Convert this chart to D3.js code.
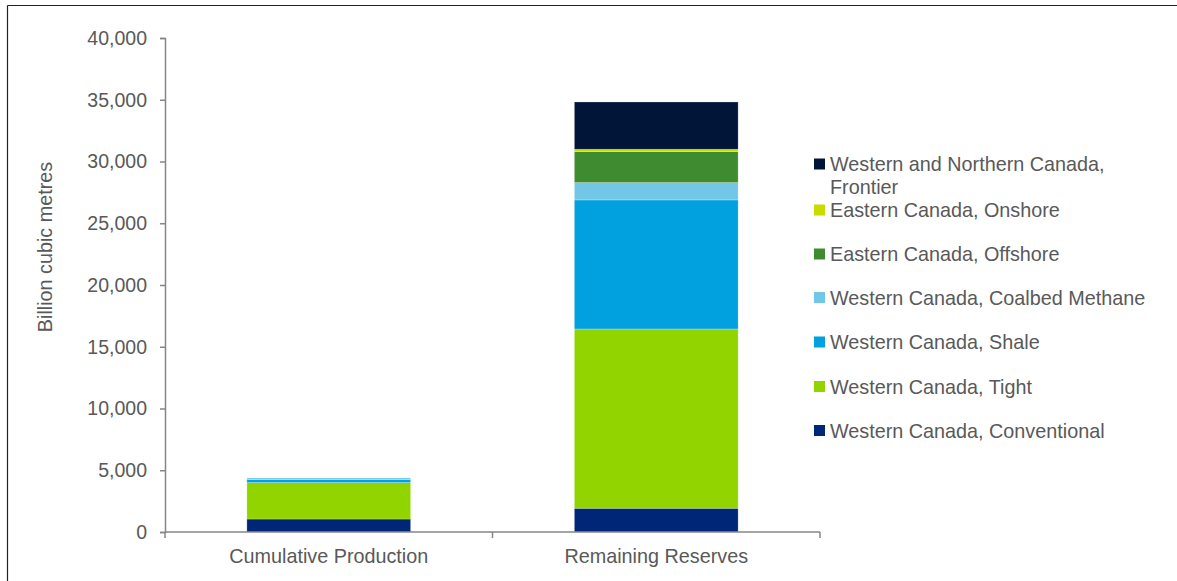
<!DOCTYPE html>
<html>
<head>
<meta charset="utf-8">
<script src="https://cdn.jsdelivr.net/npm/d3@7"></script>
<style>
  html, body { margin: 0; padding: 0; background: #fff; }
  svg { display: block; }
  text { font-family: "Liberation Sans", Arial, sans-serif; }
</style>
</head>
<body>
<svg id="chart" width="1177" height="581"></svg>
<script>
// ---- Data ----
const categories = ["Cumulative Production", "Remaining Reserves"];
const seriesNames = [
  "Western Canada, Conventional",
  "Western Canada, Tight",
  "Western Canada, Shale",
  "Western Canada, Coalbed Methane",
  "Eastern Canada, Offshore",
  "Eastern Canada, Onshore",
  "Western and Northern Canada, Frontier"
];
const conventional = [1050, 1920];
const tight = [2950, 14520];
const shale = [250, 10450];
const coalbed = [130, 1400];
const offshore = [0, 2510];
const onshore = [0, 190];
const frontier = [0, 3830];
const yTicks = [0, 5000, 10000, 15000, 20000, 25000, 30000, 35000, 40000];
const seriesColors = ["#002677", "#92D400", "#00A1DE", "#72C7E7", "#3F8B30", "#C8DC00", "#001538"];

const seriesValues = [conventional, tight, shale, coalbed, offshore, onshore, frontier];
const rows = categories.map((c, i) => {
  const r = { category: c };
  seriesNames.forEach((s, j) => r[s] = seriesValues[j][i]);
  return r;
});

// ---- Layout ----
const svg = d3.select("#chart");
const textColor = "#595959";
const axisColor = "#868686";
const fontSize = 19.8;

// frame
svg.append("line").attr("x1", 7.5).attr("x2", 1177).attr("y1", 5.5).attr("y2", 5.5)
  .attr("stroke", "#222").attr("stroke-width", 1.2);
svg.append("line").attr("x1", 7.5).attr("x2", 7.5).attr("y1", 5.5).attr("y2", 581)
  .attr("stroke", "#222").attr("stroke-width", 1.2);

const x = d3.scaleBand().domain(categories).range([165, 820]).paddingInner(0.5).paddingOuter(0.25);
const y = d3.scaleLinear().domain([0, 40000]).range([532, 38]);

const stack = d3.stack().keys(seriesNames);
const stacked = stack(rows);

const g = svg.append("g");
g.selectAll("g.series").data(stacked).join("g")
  .attr("class", "series")
  .attr("fill", (d, i) => seriesColors[i])
  .selectAll("rect").data(d => d).join("rect")
  .attr("x", d => x(d.data.category))
  .attr("width", x.bandwidth())
  .attr("y", d => y(d[1]))
  .attr("height", d => Math.max(0, y(d[0]) - y(d[1])))
  .attr("stroke", "rgba(255,255,255,0.3)")
  .attr("stroke-width", 0.8);

// y axis
const yAxis = d3.axisLeft(y).tickValues(yTicks).tickSize(5).tickPadding(13)
  .tickFormat(d3.format(","));
const yG = svg.append("g").attr("transform", "translate(165,0)").call(yAxis);
yG.select(".domain").attr("stroke", axisColor).attr("stroke-width", 1.5);
yG.selectAll(".tick line").attr("stroke", axisColor).attr("stroke-width", 1.5);
yG.selectAll(".tick text").attr("fill", textColor).style("font-size", "19.5px")
  .style("font-family", "'Liberation Sans', Arial, sans-serif");

// x axis
const xAxis = d3.axisBottom(x).tickSize(0).tickPadding(17);
const xG = svg.append("g").attr("transform", "translate(0,532)").call(xAxis);
xG.select(".domain").attr("stroke", axisColor).attr("stroke-width", 1.5)
  .attr("d", "M165,0H820");
xG.selectAll(".tick text").attr("fill", textColor).style("font-size", fontSize + "px")
  .style("font-family", "'Liberation Sans', Arial, sans-serif");
// category separators ticks
const sepX = [165, (x(categories[0]) + x.bandwidth() + x(categories[1])) / 2, 820];
xG.selectAll("line.sep").data(sepX).join("line").attr("class", "sep")
  .attr("x1", d => d).attr("x2", d => d).attr("y1", 0).attr("y2", 6)
  .attr("stroke", axisColor).attr("stroke-width", 1.5);

// y title
svg.append("text")
  .attr("transform", "translate(52,247) rotate(-90)")
  .attr("text-anchor", "middle")
  .attr("fill", textColor)
  .style("font-size", fontSize + "px")
  .text("Billion cubic metres");

// legend (reverse order, top = Frontier)
const legendY = [164, 210, 254, 297.5, 342, 386.5, 430.5];
const legendItems = seriesNames.slice().reverse();
const legendColors = seriesColors.slice().reverse();
const lg = svg.append("g");
legendItems.forEach((name, i) => {
  const cy = legendY[i];
  lg.append("rect").attr("x", 814).attr("y", cy - 5.5).attr("width", 11).attr("height", 11)
    .attr("fill", legendColors[i]);
  const t = lg.append("text").attr("x", 830).attr("y", cy + 7)
    .attr("fill", textColor).style("font-size", fontSize + "px");
  if (name === "Western and Northern Canada, Frontier") {
    t.append("tspan").attr("x", 830).text("Western and Northern Canada,");
    t.append("tspan").attr("x", 830).attr("dy", 23).text("Frontier");
  } else {
    t.text(name);
  }
});
</script>
</body>
</html>
